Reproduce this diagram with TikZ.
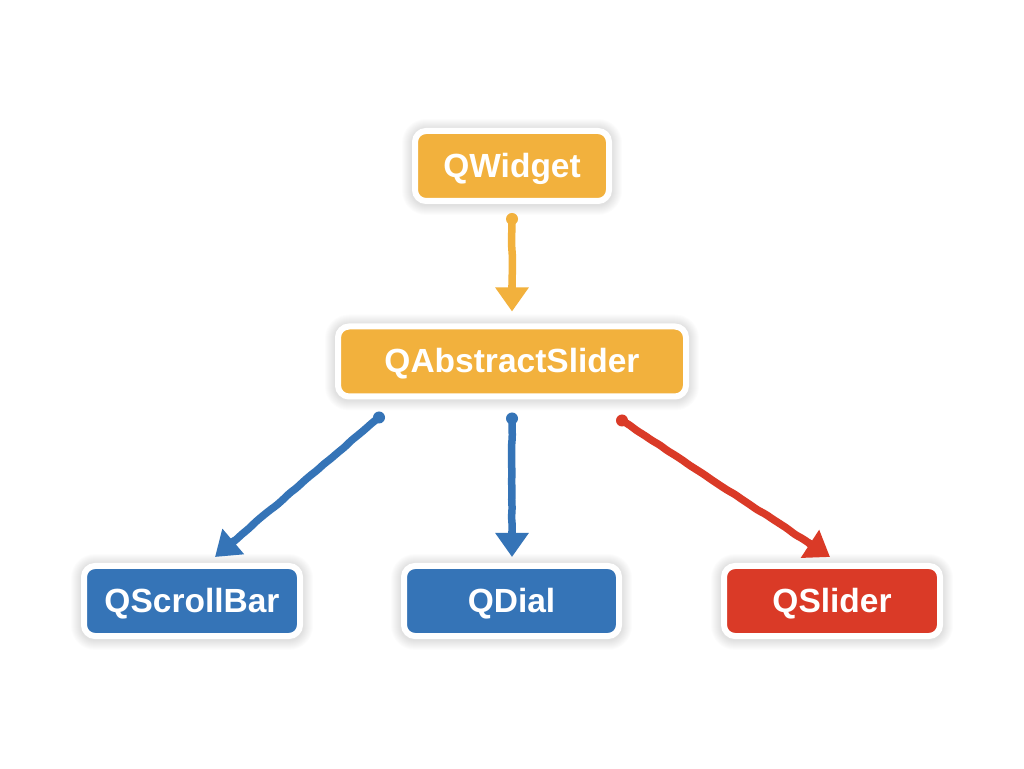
\documentclass[tikz,border=0pt]{standalone}
\usepackage{fontspec}
\setmainfont{Liberation Sans}
\usetikzlibrary{arrows.meta,calc,decorations.pathmorphing,backgrounds}
\definecolor{qorange}{HTML}{F2B13D}
\definecolor{qblue}{HTML}{3574B7}
\definecolor{qred}{HTML}{DA3A27}
\tikzset{
  cls/.style={fill=#1, draw=white, line width=6pt, rounded corners=11pt,
    minimum height=70pt, inner sep=0pt, outer sep=0pt,
    text height=24pt, text depth=1pt,
    text=white, font=\fontsize{33.5}{36}\selectfont\bfseries},
  wob/.style={line width=7.5pt, line cap=round, line join=round, rounded corners=3pt, decorate,
    decoration={random steps, segment length=9pt, amplitude=0.5pt}},
  headpart/.style={line width=7.5pt, -{Triangle[length=24pt,width=32pt]}},
}
\newcommand{\softshadow}[1]{%
  \begin{scope}[on background layer]
    \foreach \i in {1,...,10}{
      \fill[black, opacity=0.012, rounded corners=14pt+\i pt]
        ([shift={(-3pt-\i pt,-4pt-\i pt)}]#1.south west) rectangle
        ([shift={(3pt+\i pt,2pt+\i pt)}]#1.north east);
    }
  \end{scope}}
\newcommand{\handarrow}[3]{% colour, start, tip
  \fill[#1] (#2) circle (6pt);
  \draw[#1, wob] (#2) -- ($(#3)!20pt!(#2)$);
  \draw[#1, headpart] ($(#3)!26pt!(#2)$) -- (#3);}
\begin{document}
\begin{tikzpicture}[x=1pt,y=1pt]
  \begin{scope}[on background layer]
    \fill[white] (0,0) rectangle (1024,768);
  \end{scope}
  \useasboundingbox (0,0) rectangle (1024,768);
  \node[cls=qorange, minimum width=194pt] (qw) at (512,602) {QWidget};
  \node[cls=qorange, minimum width=348pt] (asl) at (512,406.5) {QAbstractSlider};
  \node[cls=qblue, minimum width=216pt] (sb) at (192,167) {QScrollBar};
  \node[cls=qblue, minimum width=215pt] (dial) at (511.5,167) {QDial};
  \node[cls=qred, minimum width=216pt] (sl) at (832,167) {QSlider};
  \softshadow{qw}\softshadow{asl}\softshadow{sb}\softshadow{dial}\softshadow{sl}
  \coordinate (s1) at ($(qw.south)+(0,-18)$);
  \coordinate (t1) at ($(asl.north)+(0,15)$);
  \coordinate (s2) at ($(asl.south)+(-133,-21)$);
  \coordinate (t2) at ($(sb.north)+(23,9)$);
  \coordinate (s3) at ($(asl.south)+(0,-22)$);
  \coordinate (t3) at ($(dial.north)+(0.5,9)$);
  \coordinate (s4) at ($(asl.south)+(110,-24)$);
  \coordinate (t4) at ($(sl.north)+(-2,9)$);
  \handarrow{qorange}{s1}{t1}
  \handarrow{qblue}{s2}{t2}
  \handarrow{qblue}{s3}{t3}
  \handarrow{qred}{s4}{t4}
\end{tikzpicture}
\end{document}
